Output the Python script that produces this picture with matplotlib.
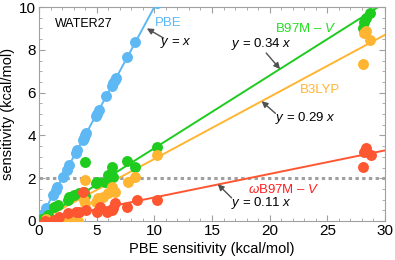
import numpy as np
import matplotlib
matplotlib.use('Agg')
import matplotlib.pyplot as plt
from matplotlib.ticker import MultipleLocator

plt.rcParams['font.family'] = ['Liberation Sans', 'DejaVu Sans']
plt.rcParams['mathtext.fontset'] = 'custom'
plt.rcParams['mathtext.rm'] = 'Liberation Sans'
plt.rcParams['mathtext.it'] = 'Liberation Sans:italic'

#%% Data (PBE sensitivity vs functional sensitivity)

pbe_x = [0.3, 0.6, 1.2, 1.45, 1.6, 2.05, 2.4, 2.6, 3.2, 3.3, 3.8, 3.9, 4.0,
         4.1, 4.9, 5.0, 5.2, 5.85, 6.3, 6.45, 6.6, 6.7, 7.65, 8.35, 10.2,
         28.07, 28.2, 28.35, 28.7]
pbe_y = list(pbe_x)

b97_x = [0.3, 0.75, 1.33, 1.62, 2.49, 2.6, 3.06, 3.5, 3.9, 4.0, 4.0, 4.9,
         5.0, 5.7, 6.0, 6.3, 6.45, 7.6, 8.33, 10.2,
         28.07, 28.2, 28.35, 28.7]
b97_y = [0.1, 0.28, 0.67, 0.75, 0.98, 1.1, 1.21, 1.29, 1.35, 1.15, 2.77, 1.76,
         1.84, 1.84, 2.15, 2.54, 2.07, 2.82, 2.54, 3.47,
         9.0, 9.3, 9.47, 9.7]

b3lyp_x = [0.6, 1.5, 2.0, 2.7, 3.4, 3.9, 4.0, 4.0, 4.9, 5.15, 5.58, 6.0, 6.3,
           6.6, 7.75, 8.33, 10.2, 28.07, 28.2, 28.35, 28.7]
b3lyp_y = [0.1, 0.0, 0.05, 0.0, 0.0, 1.0, 0.85, 1.92, 0.9, 1.06, 1.14, 1.29,
           1.6, 1.37, 1.84, 2.07, 3.08, 7.34, 8.8, 8.9, 8.45]

wb97_x = [0.5, 1.33, 1.76, 2.5, 3.2, 3.5, 3.8, 4.1, 5.0, 5.3, 5.87, 6.3,
          6.45, 6.6, 7.6, 8.47, 10.2, 28.07, 28.2, 28.36, 28.77]
wb97_y = [0.0, 0.05, 0.2, 0.36, 0.43, 0.4, 1.37, 0.51, 0.43, 0.67, 0.43, 0.51,
          0.6, 0.83, 0.67, 0.98, 0.98, 2.54, 3.24, 3.4, 3.08]

#fitted slopes
slopes = {'PBE': 1.0, 'B97M-V': 0.34, 'B3LYP': 0.29, 'wB97M-V': 0.11}

c_pbe = '#5db8f4'
c_b97 = '#1ecb1e'
c_b3 = '#ffb531'
c_wb = '#ff5632'

#%% Plotting

fig = plt.figure(figsize=(3.95, 2.6), dpi=100)
ax = fig.add_axes([0.0987, 0.15, 0.876, 0.823])

xx = np.linspace(0, 30, 200)
ax.plot([0, 30], [2, 2], color='#a0a0a0', lw=2.2, ls=(0, (1.1, 1.1)), zorder=1)
ax.plot(xx, slopes['PBE'] * xx, color=c_pbe, lw=1.4, zorder=2)
ax.plot(xx, slopes['B97M-V'] * xx, color=c_b97, lw=1.4, zorder=2)
ax.plot(xx, slopes['B3LYP'] * xx, color=c_b3, lw=1.4, zorder=2)
ax.plot(xx, slopes['wB97M-V'] * xx, color=c_wb, lw=1.4, zorder=2)

ms = 62
ax.scatter(pbe_x, pbe_y, s=ms, color=c_pbe, lw=0, zorder=3)
ax.scatter(b97_x, b97_y, s=ms, color=c_b97, lw=0, zorder=3)
ax.scatter(b3lyp_x, b3lyp_y, s=ms, color=c_b3, lw=0, zorder=3)
ax.scatter(wb97_x, wb97_y, s=ms, color=c_wb, lw=0, zorder=3)

ax.set_xlim(0, 30)
ax.set_ylim(0, 10)
ax.xaxis.set_major_locator(MultipleLocator(5))
ax.xaxis.set_minor_locator(MultipleLocator(1))
ax.yaxis.set_major_locator(MultipleLocator(2))
ax.yaxis.set_minor_locator(MultipleLocator(0.5))
ax.tick_params(which='both', direction='in', top=True, right=True,
               color='#a0a0a0', labelsize=11, pad=2)
ax.tick_params(which='major', length=4, width=0.8)
ax.tick_params(which='minor', length=2, width=0.6)
for sp in ax.spines.values():
    sp.set_color('#a0a0a0')
    sp.set_linewidth(0.8)

ax.set_xlabel('PBE sensitivity (kcal/mol)', fontsize=10.5, labelpad=3)
ax.set_ylabel('sensitivity (kcal/mol)', fontsize=10.5, labelpad=3)

#labels and annotations
fs = 9.5
ax.text(1.4, 9.2, 'WATER27', fontsize=9, va='center', ha='left')
ax.text(11.2, 9.25, 'PBE', color=c_pbe, fontsize=fs, ha='center', va='center')
ax.text(23.1, 9.0, r'B97M – $V$', color='#22dd22', fontsize=fs,
        ha='center', va='center')
ax.text(24.4, 6.12, 'B3LYP', color=c_b3, fontsize=fs, ha='center', va='center')
ax.text(21.2, 1.45, r'$\omega$B97M – $V$', color='#ff2020', fontsize=fs,
        ha='center', va='center')

arr = dict(arrowstyle='-|>', color='#505050', lw=1.0, mutation_scale=9,
           shrinkA=0, shrinkB=0)
ax.annotate('', xy=(9.35, 9.0), xytext=(10.8, 8.55), arrowprops=arr)
ax.text(11.9, 8.3, r'$y$ = $x$', fontsize=fs, ha='center', va='center')
ax.annotate('', xy=(20.9, 7.1), xytext=(19.7, 7.85), arrowprops=arr)
ax.text(19.3, 8.25, r'$y$ = 0.34 $x$', fontsize=fs, ha='center', va='center')
ax.annotate('', xy=(19.3, 5.6), xytext=(20.5, 5.03), arrowprops=arr)
ax.text(23.1, 4.8, r'$y$ = 0.29 $x$', fontsize=fs, ha='center', va='center')
ax.annotate('', xy=(15.5, 1.72), xytext=(16.7, 1.08), arrowprops=arr)
ax.text(19.3, 0.83, r'$y$ = 0.11 $x$', fontsize=fs, ha='center', va='center')

fig.savefig('out.png', dpi=100)
